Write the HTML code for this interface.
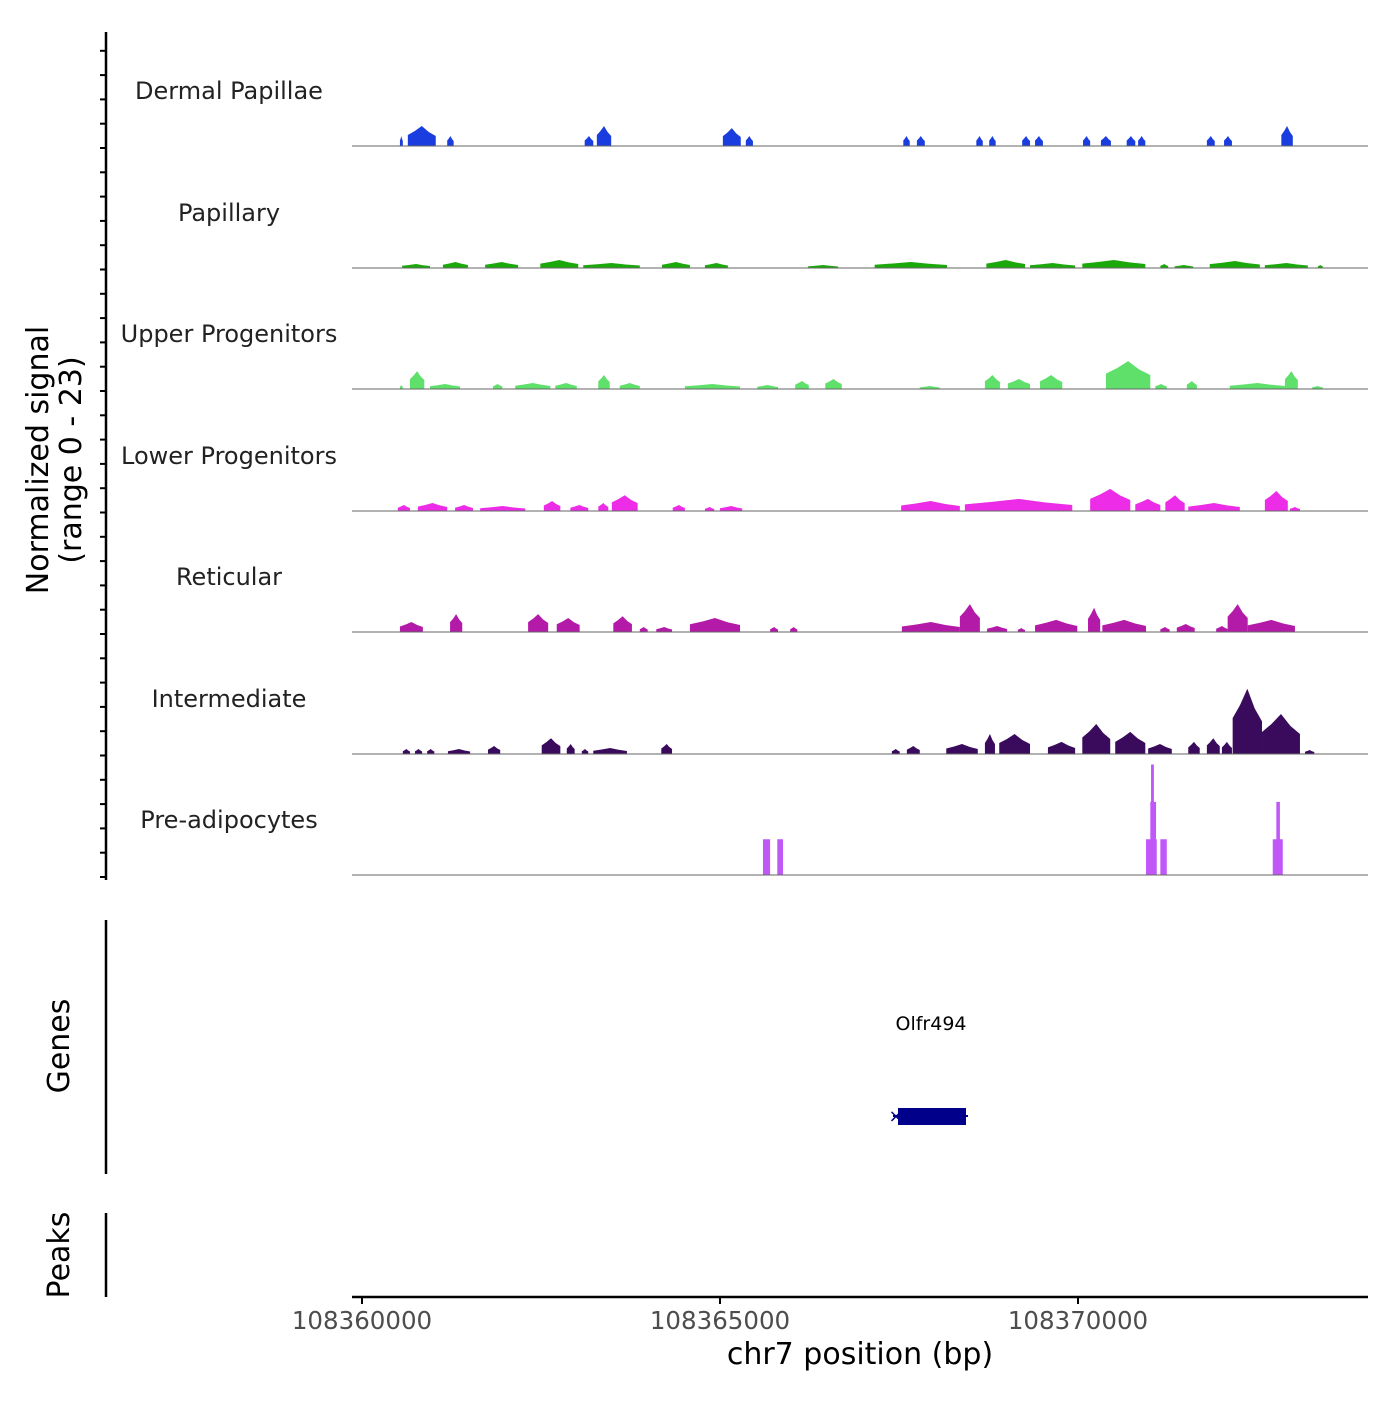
<!DOCTYPE html>
<html><head><meta charset="utf-8"><style>
body{margin:0;background:#fff}
svg text{font-family:"DejaVu Sans","Liberation Sans",sans-serif}
</style></head><body>
<svg id="chart" width="1400" height="1400" viewBox="0 0 1400 1400" xmlns="http://www.w3.org/2000/svg">
<g id="axes"></g><g id="tracks"></g>
</svg>
<script>
// positions in kb offset from 108360000, heights in normalized signal units
const trackNames=["Dermal Papillae","Papillary","Upper Progenitors","Lower Progenitors","Reticular","Intermediate","Pre-adipocytes"];
const trackColors=["#1a3de0","#1aa80a","#5ee06a","#ec2ce6","#b41aa8","#3a0a5c","#c058f8"];
const dpStart=[0.53,0.64,1.19,3.11,3.28,5.04,5.36,7.56,7.75,8.58,8.76,9.22,9.40,10.07,10.32,10.68,10.84,11.80,12.04,12.84];
const dpEnd=[0.57,1.03,1.28,3.23,3.48,5.29,5.46,7.65,7.86,8.67,8.85,9.33,9.51,10.17,10.46,10.80,10.94,11.91,12.15,13.00];
const dpVal=[1.9,3.8,1.9,1.9,3.8,3.4,1.9,1.9,1.9,1.9,1.9,1.9,1.9,1.9,1.9,1.9,1.9,1.9,1.9,3.8];
const paStart=[0.56,1.13,1.72,2.49,3.09,4.19,4.79,6.23,7.16,8.72,9.33,10.06,11.15,11.35,11.84,12.61,13.35];
const paEnd=[0.95,1.48,2.18,3.02,3.88,4.58,5.11,6.65,8.17,9.26,9.96,10.94,11.26,11.61,12.54,13.21,13.42];
const paVal=[0.76,1.14,1.14,1.52,0.95,1.14,0.95,0.57,1.14,1.52,0.95,1.52,0.76,0.57,1.33,0.95,0.57];
const upStart=[0.53,0.67,0.95,1.83,2.14,2.70,3.30,3.60,4.51,5.52,6.05,6.47,7.79,8.70,9.02,9.47,10.39,11.08,11.52,12.12,12.89,13.27];
const upEnd=[0.57,0.87,1.37,1.96,2.63,3.00,3.46,3.88,5.28,5.81,6.24,6.70,8.07,8.91,9.33,9.78,11.01,11.24,11.66,12.89,13.07,13.42];
const upVal=[0.76,3.4,0.95,0.95,1.14,1.14,2.66,1.14,0.95,0.76,1.52,1.9,0.57,2.66,1.9,2.66,5.3,0.95,1.52,1.14,3.4,0.57];
const loStart=[0.50,0.78,1.30,1.65,2.54,2.91,3.30,3.49,4.34,4.79,5.00,7.53,8.42,10.17,10.80,11.22,11.54,12.61,12.96];
const loEnd=[0.67,1.19,1.55,2.28,2.77,3.16,3.44,3.85,4.51,4.92,5.31,8.35,9.92,10.73,11.15,11.49,12.26,12.93,13.10];
const loVal=[1.14,1.52,1.14,0.95,1.9,1.14,1.52,3.0,1.14,0.76,0.95,1.9,2.3,4.2,2.3,3.0,1.52,3.8,0.76];
const reStart=[0.53,1.23,2.32,2.72,3.51,3.88,4.11,4.58,5.70,5.98,7.54,8.35,8.73,9.16,9.40,10.14,10.34,11.15,11.38,11.93,12.09,12.37];
const reEnd=[0.85,1.40,2.60,3.04,3.77,3.99,4.33,5.28,5.81,6.08,8.35,8.63,9.01,9.26,9.99,10.31,10.95,11.28,11.63,12.09,12.37,13.03];
const reVal=[1.9,3.4,3.4,2.66,3.0,0.95,0.95,2.66,0.95,0.95,1.9,5.3,1.14,0.76,2.3,4.6,2.3,0.95,1.52,1.14,5.3,2.3];
const inStart=[0.57,0.74,0.91,1.20,1.76,2.51,2.86,3.07,3.23,4.18,7.40,7.61,8.16,8.70,8.90,9.58,10.06,10.52,10.98,11.54,11.80,12.01,12.16,12.57,13.17];
const inEnd=[0.67,0.84,1.01,1.51,1.93,2.77,2.97,3.16,3.70,4.33,7.51,7.79,8.60,8.84,9.33,9.96,10.45,10.94,11.31,11.70,11.98,12.15,12.57,13.10,13.30];
const inVal=[0.95,0.95,0.95,0.95,1.52,3.0,1.9,0.95,1.14,1.9,0.95,1.52,1.9,3.8,3.8,2.3,5.7,4.2,1.9,2.3,3.0,2.3,12.4,7.6,0.76];
const prStart=[5.60,5.80,10.95,11.01,11.02,11.15,12.72,12.77];
const prEnd=[5.70,5.88,11.10,11.09,11.06,11.24,12.86,12.82];
const prVal=[6.8,6.8,6.8,13.9,21,6.8,6.8,13.9];
const xTicks=[108360000,108365000,108370000];

const starts=[dpStart,paStart,upStart,loStart,reStart,inStart,prStart];
const ends=[dpEnd,paEnd,upEnd,loEnd,reEnd,inEnd,prEnd];
const vals=[dpVal,paVal,upVal,loVal,reVal,inVal,prVal];

const NS="http://www.w3.org/2000/svg";
const X0=352,X1=1368;
function xs(kb){return 362+kb*71.6;}
function ys(v){return v*121/23;}
function mk(tag,attrs,parent,text){const e=document.createElementNS(NS,tag);for(const k in attrs)e.setAttribute(k,attrs[k]);if(text!=null)e.textContent=text;parent.appendChild(e);return e;}
const axes=document.getElementById('axes'),tracks=document.getElementById('tracks');
const baselines=[146,268,389,511,632,754,875];

trackNames.forEach((name,i)=>{
  const g=mk('g',{},tracks);
  
  
  const b=baselines[i];
  const lbl=mk('text',{x:229,y:b-47,'text-anchor':'middle','font-size':24,fill:'#222'},g,name);
  
  
  const s=starts[i],e=ends[i],v=vals[i];
  for(let j=0;j<s.length;j++){
    const a=xs(s[j]),c=xs(e[j]),h=ys(v[j]);let p;
    if(i===6){p=`${a},${b} ${a},${b-h} ${c},${b-h} ${c},${b}`;}
    else{const m=(a+c)/2;p=`${a},${b} ${a},${b-h*0.55} ${(a+m)/2},${b-h*0.75} ${m},${b-h} ${(m+c)/2},${b-h*0.7} ${c},${b-h*0.5} ${c},${b}`;}
    const poly=mk('polygon',{points:p,fill:trackColors[i]},g);
    
    
  }
  const bl=mk('line',{x1:X0,x2:X1,y1:b,y2:b,stroke:'#666','stroke-width':1},g);
  
  
});

// left axes
const ya=mk('line',{x1:106,x2:106,y1:32,y2:880,stroke:'#000','stroke-width':2.5},axes);

for(let k=0;k<35;k++){const y=877-k*24.3;if(y<32)break;
  const t=mk('line',{x1:100,x2:106,y1:y,y2:y,stroke:'#000','stroke-width':2},axes);
  }
const yt=mk('text',{transform:'translate(52,460) rotate(-90)','text-anchor':'middle','font-size':30,fill:'#000'},axes);

mk('tspan',{x:0,dy:-4},yt,'Normalized signal');mk('tspan',{x:0,dy:33},yt,'(range 0 - 23)');
const ga=mk('line',{x1:106,x2:106,y1:920,y2:1174,stroke:'#000','stroke-width':2.5},axes);

const gt=mk('text',{transform:'translate(69,1046) rotate(-90)','text-anchor':'middle','font-size':30},axes,'Genes');

const pa=mk('line',{x1:106,x2:106,y1:1213,y2:1297,stroke:'#000','stroke-width':2.5},axes);

const pt=mk('text',{transform:'translate(69,1255) rotate(-90)','text-anchor':'middle','font-size':30},axes,'Peaks');


// gene
const gl=mk('line',{x1:893,x2:968,y1:1116,y2:1116,stroke:'#00008b','stroke-width':2},axes);

const gr=mk('rect',{x:898,y:1108,width:68,height:17,fill:'#00008b'},axes);

const ar=mk('text',{x:896,y:1122,'text-anchor':'middle','font-size':18,fill:'#00008b'},axes,'×');

const gn=mk('text',{x:931,y:1030,'text-anchor':'middle','font-size':19},axes,'Olfr494');


// x axis
const xa=mk('line',{x1:X0,x2:X1,y1:1297,y2:1297,stroke:'#000','stroke-width':2.5},axes);

xTicks.forEach(t=>{const x=xs((t-108360000)/1000);
  const tk=mk('line',{x1:x,x2:x,y1:1297,y2:1304,stroke:'#000','stroke-width':2},axes);
  
  const tl=mk('text',{x:x,y:1329,'text-anchor':'middle','font-size':24.5,fill:'#4d4d4d'},axes,String(t));
  });
const xt=mk('text',{x:860,y:1364,'text-anchor':'middle','font-size':30},axes,'chr7 position (bp)');

</script>
</body></html>
